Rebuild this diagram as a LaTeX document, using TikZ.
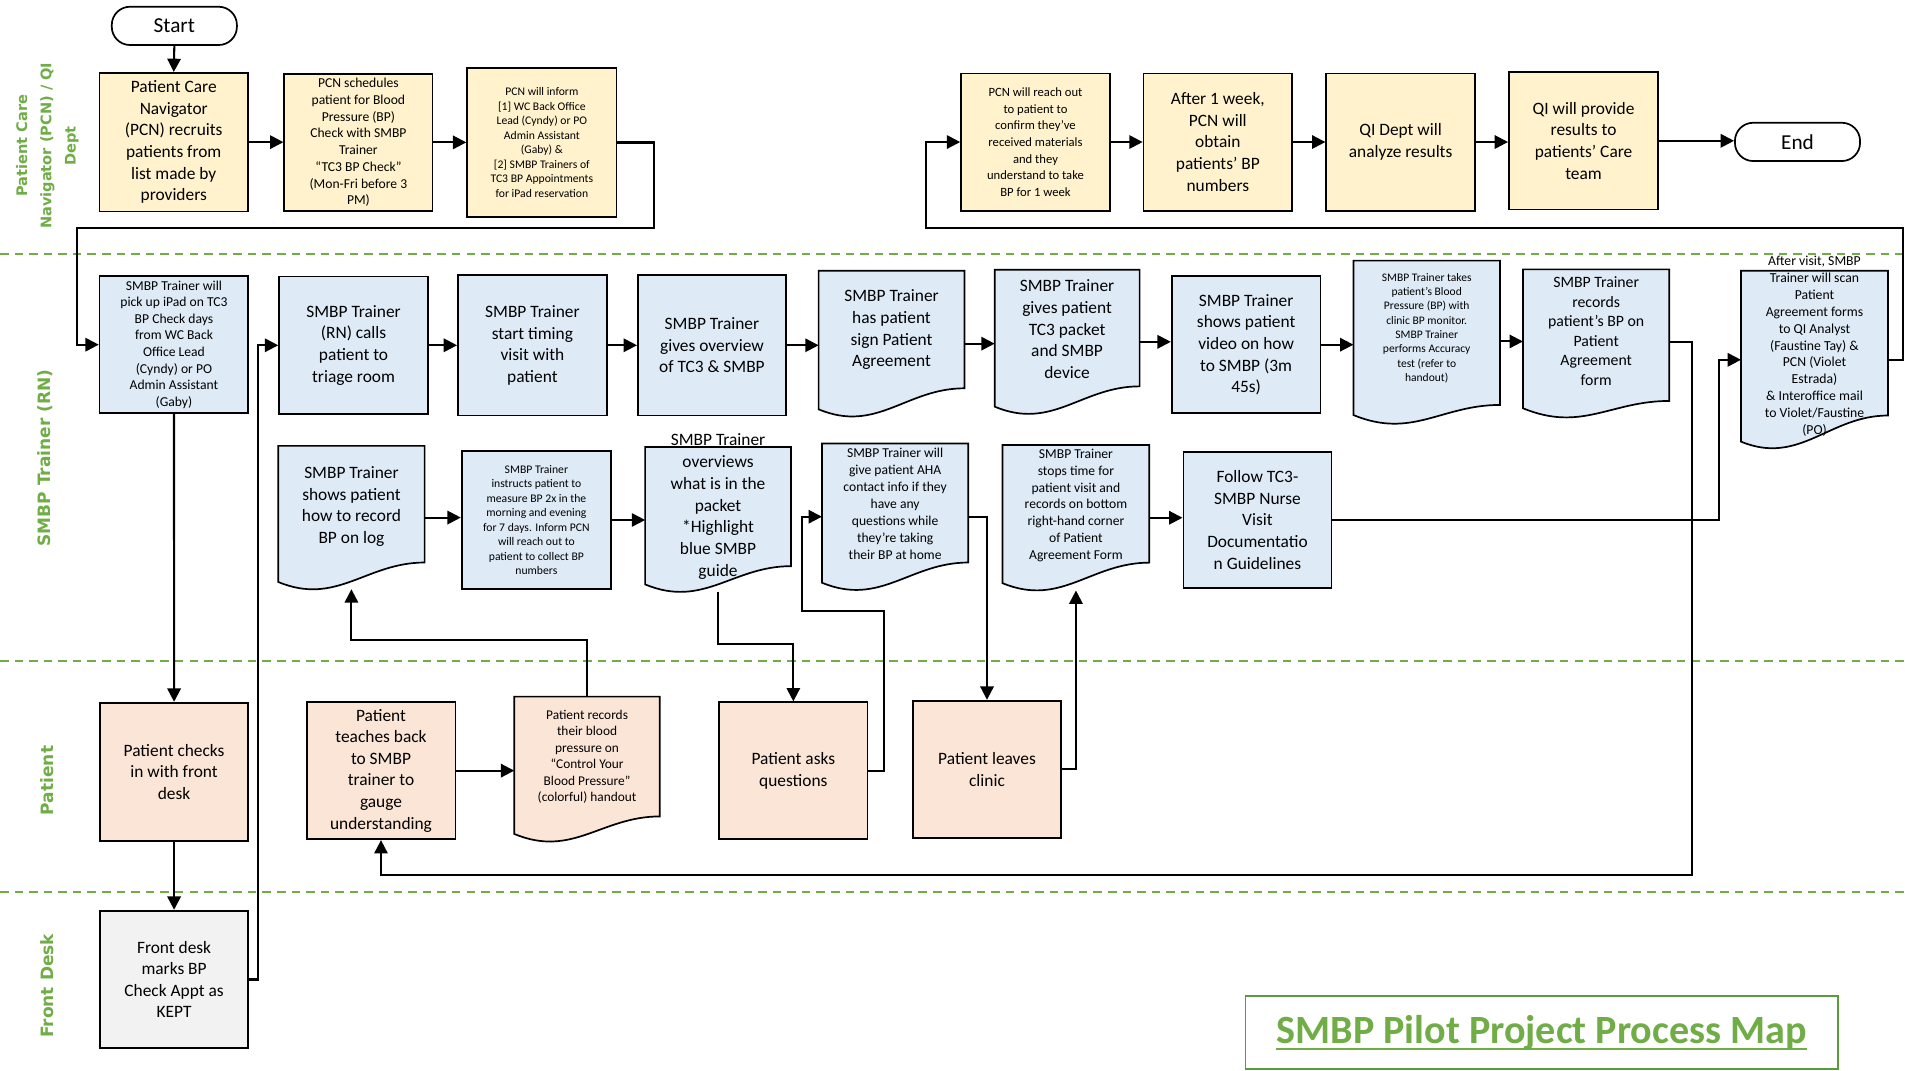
\documentclass[tikz,border=0pt]{standalone}
\usepackage{fontspec}
\setmainfont{Carlito}
\newfontfamily\lanefont{DejaVu Sans}
\usetikzlibrary{arrows.meta,calc}
\definecolor{yel}{HTML}{FFF2CC}
\definecolor{blu}{HTML}{DEEBF7}
\definecolor{pch}{HTML}{FBE5D6}
\definecolor{gry}{HTML}{F2F2F2}
\definecolor{lgreen}{HTML}{70AD47}
\definecolor{dgreen}{HTML}{5B9A3C}
\newcommand{\fsx}[2]{\fontsize{#1}{#2}\selectfont}
% document shape: name, x1, top, x2, yLeftCorner, yRightCorner, fill
\newcommand{\docshape}[7]{%
  \pgfmathsetmacro{\dsW}{#4-#2}%
  \pgfmathsetmacro{\dsA}{#2+0.6*\dsW}%
  \pgfmathsetmacro{\dsB}{#2+0.4*\dsW}%
  \pgfmathsetmacro{\dsC}{#5+20}%
  \filldraw[boxline, fill=#7] (#2,#3) -- (#4,#3) -- (#4,#6) .. controls (\dsA,#6) and (\dsB,\dsC) .. (#2,#5) -- cycle;
  \pgfmathsetmacro{\dsX}{(#2+#4)/2}%
  \pgfmathsetmacro{\dsY}{(#3+#5+6)/2}%
  \pgfmathsetmacro{\dsH}{#5+6-#3}%
  \node[inner sep=0pt, outer sep=0pt, minimum width=\dsW pt, minimum height=\dsH pt] (#1) at (\dsX,\dsY) {};
}
\tikzset{
  boxline/.style={draw=black, line width=1.4pt},
  box/.style={boxline, rectangle, align=center, inner sep=1pt},
  txt/.style={align=center, inner sep=0pt},
  arr/.style={line width=1.7pt, -{Triangle[length=11pt,width=11pt]}},
  lane/.style={draw=lgreen, line width=1.6pt, dash pattern=on 7pt off 5pt},
  lanelbl/.style={rotate=90, text=lgreen, align=center, inner sep=0pt},
  pill/.style={boxline, rectangle, rounded corners=15pt, align=center, fill=white},
  big/.style={font=\fsx{14.3}{17.8}},
}
\begin{document}
\begin{tikzpicture}[x=1pt,y=-1pt]
\useasboundingbox (0,0) rectangle (1568,881);
\fill[white] (0,0) rectangle (1568,881);

% lanes
\draw[lane] (0,209.1) -- (1568,209.1);
\draw[lane] (0,544) -- (1568,544);
\draw[lane] (0,734.5) -- (1568,734.5);
\node[lanelbl, font=\lanefont\bfseries\fsx{12}{20}] (lpcn) at (39,120) {Patient Care\\Navigator (PCN) / QI\\Dept};
\node[lanelbl, font=\lanefont\bfseries\fsx{14}{17}] (lsmbp) at (37.5,377) {SMBP Trainer (RN)};
\node[lanelbl, font=\lanefont\bfseries\fsx{14}{17}] (lpat) at (38.6,642.4) {Patient};
\node[lanelbl, font=\lanefont\bfseries\fsx{14}{17}] (lfd) at (38.6,811.4) {Front Desk};

% PCN / QI lane
\node[pill, minimum width=103pt, minimum height=31.5pt, font=\fsx{17.5}{20}] (start) at (143.5,21.3) {Start};
\node[box, fill=yel, minimum width=122pt, minimum height=114pt, big] (b1) at (143,117) {Patient Care\\Navigator\\(PCN) recruits\\patients from\\list made by\\providers};
\node[box, fill=yel, minimum width=122pt, minimum height=112.5pt, font=\fsx{11.2}{13.8}] (b2) at (295,117.2) {PCN schedules\\patient for Blood\\Pressure (BP)\\Check with SMBP\\Trainer\\“TC3 BP Check”\\(Mon-Fri before 3\\PM)};
\node[box, fill=yel, minimum width=123pt, minimum height=123pt, font=\fsx{9.6}{11.9}] (b3) at (446,117.3) {PCN will inform\\{[1]} WC Back Office\\Lead (Cyndy) or PO\\Admin Assistant\\(Gaby) \&\\{[2]} SMBP Trainers of\\TC3 BP Appointments\\for iPad reservation};
\node[box, fill=yel, minimum width=122.5pt, minimum height=113pt, font=\fsx{10.4}{13.7}] (b4) at (852.3,116.9) {PCN will reach out\\to patient to\\confirm they’ve\\received materials\\and they\\understand to take\\BP for 1 week};
\node[box, fill=yel, minimum width=122.4pt, minimum height=113pt, big] (b5) at (1002.4,116.9) {After 1 week,\\PCN will\\obtain\\patients’ BP\\numbers};
\node[box, fill=yel, minimum width=122.4pt, minimum height=113pt, big] (b6) at (1152.8,116.9) {QI Dept will\\analyze results};
\node[box, fill=yel, minimum width=122.9pt, minimum height=113pt, big] (b7) at (1303.4,115.9) {QI will provide\\results to\\patients’ Care\\team};
\node[pill, minimum width=103pt, minimum height=31.5pt, font=\fsx{17.5}{20}] (end) at (1479.5,116.8) {End};

% SMBP Trainer lane, row 1
\node[box, fill=blu, minimum width=122.4pt, minimum height=113pt, font=\fsx{11.2}{13.7}] (sm1) at (143.2,283.7) {SMBP Trainer will\\pick up iPad on TC3\\BP Check days\\from WC Back\\Office Lead\\(Cyndy) or PO\\Admin Assistant\\(Gaby)};
\node[box, fill=blu, minimum width=122.6pt, minimum height=113pt, big] (sm2) at (291,284.2) {SMBP Trainer\\(RN) calls\\patient to\\triage room};
\node[box, fill=blu, minimum width=122.6pt, minimum height=115.7pt, big] (sm3) at (438.2,284.2) {SMBP Trainer\\start timing\\visit with\\patient};
\node[box, fill=blu, minimum width=122pt, minimum height=115.7pt, big] (sm4) at (586,284.2) {SMBP Trainer\\gives overview\\of TC3 \& SMBP};
\docshape{sm5}{673.8}{222.8}{793.8}{336.9}{319.6}{blu}
\node[txt, big] (sm5t) at (733.8,271.5) {SMBP Trainer\\has patient\\sign Patient\\Agreement};
\docshape{sm6}{818.7}{222}{938}{334.7}{318}{blu}
\node[txt, big] (sm6t) at (878.3,271) {SMBP Trainer\\gives patient\\TC3 packet\\and SMBP\\device};
\node[box, fill=blu, minimum width=122.6pt, minimum height=113pt, big] (sm7) at (1025.7,283.7) {SMBP Trainer\\shows patient\\video on how\\to SMBP (3m\\45s)};
\docshape{sm8}{1114}{214.5}{1234.6}{341.6}{333.3}{blu}
\node[txt, font=\fsx{9.5}{11.8}] (sm8t) at (1174.3,270) {SMBP Trainer takes\\patient’s Blood\\Pressure (BP) with\\clinic BP monitor.\\SMBP Trainer\\performs Accuracy\\test (refer to\\handout)};
\docshape{sm9}{1253.5}{221.7}{1374}{336}{330}{blu}
\node[txt, font=\fsx{13}{16}] (sm9t) at (1313.8,272.5) {SMBP Trainer\\records\\patient’s BP on\\Patient\\Agreement\\form};
\docshape{sm10}{1433}{222.8}{1554}{363.5}{342}{blu}
\node[txt, font=\fsx{11.3}{13.9}] (sm10t) at (1493.5,285) {After visit, SMBP\\Trainer will scan\\Patient\\Agreement forms\\to QI Analyst\\(Faustine Tay) \&\\PCN (Violet\\Estrada)\\\& Interoffice mail\\to Violet/Faustine\\(PO)};

% SMBP Trainer lane, row 2
\docshape{r1}{229}{367}{349.5}{479}{463}{blu}
\node[txt, big] (r1t) at (289.3,417) {SMBP Trainer\\shows patient\\how to record\\BP on log};
\node[box, fill=blu, minimum width=123pt, minimum height=114pt, font=\fsx{9.6}{11.9}] (r2) at (441.5,428) {SMBP Trainer\\instructs patient to\\measure BP 2x in the\\morning and evening\\for 7 days. Inform PCN\\will reach out to\\patient to collect BP\\numbers};
\docshape{r3}{531}{368}{651}{481}{466}{blu}
\node[txt, font=\fsx{14.3}{18}] (r3t) at (591,417) {SMBP Trainer\\overviews\\what is in the\\packet\\*Highlight\\blue SMBP\\guide};
\docshape{r4}{676.5}{365}{797}{479.6}{463}{blu}
\node[txt, font=\fsx{11.2}{14}] (r4t) at (736.8,415) {SMBP Trainer will\\give patient AHA\\contact info if they\\have any\\questions while\\they’re taking\\their BP at home};
\docshape{r5}{825.2}{366.3}{946}{480}{463.1}{blu}
\node[txt, font=\fsx{11.2}{13.8}] (r5t) at (885.6,416) {SMBP Trainer\\stops time for\\patient visit and\\records on bottom\\right-hand corner\\of Patient\\Agreement Form};
\node[box, fill=blu, minimum width=122pt, minimum height=112.5pt, font=\fsx{14.3}{18}] (fol) at (1035,428) {Follow TC3-\\SMBP Nurse\\Visit\\Documentatio\\n Guidelines};

% Patient lane
\node[box, fill=pch, minimum width=122pt, minimum height=113.7pt, big] (p1) at (143.3,635.2) {Patient checks\\in with front\\desk};
\node[box, fill=pch, minimum width=122.4pt, minimum height=113pt, big] (p2) at (313.6,634.3) {Patient\\teaches back\\to SMBP\\trainer to\\gauge\\understanding};
\docshape{p3}{423.3}{573.4}{543}{686.4}{672}{pch}
\node[txt, font=\fsx{11}{13.6}] (p3t) at (483.2,623) {Patient records\\their blood\\pressure on\\“Control Your\\Blood Pressure”\\(colorful) handout};
\node[box, fill=pch, minimum width=122.2pt, minimum height=112.8pt, big] (p4) at (653,634.4) {Patient asks\\questions};
\node[box, fill=pch, minimum width=122.2pt, minimum height=113pt, big] (p5) at (812.4,633.2) {Patient leaves\\clinic};

% Front desk lane
\node[box, fill=gry, minimum width=122pt, minimum height=113.3pt, big] (f1) at (143.3,806.2) {Front desk\\marks BP\\Check Appt as\\KEPT};

% title
\node[draw=dgreen, line width=1.3pt, minimum width=488pt, minimum height=60pt, inner sep=0pt] (tbox) at (1269,850) {};
\node[anchor=base, inner sep=0pt, text=lgreen, font=\fsx{33}{38}\bfseries] (ttl) at (1269,859) {SMBP Pilot Project Process Map};
\draw[lgreen, line width=2pt] ([yshift=-4.5pt]ttl.base west) -- ([yshift=-4.5pt]ttl.base east);

% connectors, PCN lane
\draw[arr] (start.south) -- (b1.north);
\draw[arr] (b1.east) -- (b1.east -| b2.west);
\draw[arr] (b2.east) -- (b2.east -| b3.west);
\draw[arr] (b3.east) -- ++(30,0) |- (63,188) |- (sm1.west);
\draw[arr] (sm10.east) -| (1566,188) -| (762,150) |- (b4.west);
\draw[arr] (b4.east) -- (b4.east -| b5.west);
\draw[arr] (b5.east) -- (b5.east -| b6.west);
\draw[arr] (b6.east) -- (b6.east -| b7.west);
\draw[arr] (b7.east) -- (b7.east -| end.west);

% connectors, trainer row 1
\draw[arr] (sm2.east) -- (sm2.east -| sm3.west);
\draw[arr] (sm3.east) -- (sm3.east -| sm4.west);
\draw[arr] (sm4.east) -- (sm4.east -| sm5.west);
\draw[arr] (sm5.east) -- (sm5.east -| sm6.west);
\draw[arr] (sm6.east) -- (sm6.east -| sm7.west);
\draw[arr] (sm7.east) -- (sm7.east -| sm8.west);
\draw[arr] (sm8.east) -- (sm8.east -| sm9.west);
\draw[arr] (sm9.east) -| (1392.4,720) -| (p2.south);

% connectors, left column
\draw[arr] (sm1.south) -- (p1.north);
\draw[arr] (p1.south) -- (f1.north);
\draw[arr] (f1.east) -- ++(7,0) |- (sm2.west);

% connectors, trainer row 2 and patient lane
\draw[arr] (p2.east) -- (p2.east -| p3.west);
\draw[arr] (p3.north) -- ++(0,-46.7) -| (r1.south);
\draw[arr] (r1.east) -- (r1.east -| r2.west);
\draw[arr] (r2.east) -- (r2.east -| r3.west);
\draw[arr] (r3.south) -- ++(0,43) -| (p4.north);
\draw[arr] (p4.east) -| (727.5,503) -| (660,450) |- (r4.west);
\draw[arr] (r4.east) -| (p5.north);
\draw[arr] (p5.east) -| (r5.south);
\draw[arr] (r5.east) -- (r5.east -| fol.west);
\draw[arr] (fol.east) -| (1415,350) |- (sm10.west);
\end{tikzpicture}
\end{document}
